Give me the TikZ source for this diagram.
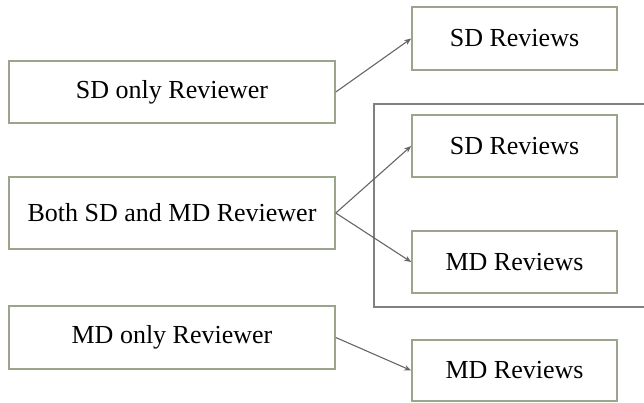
\documentclass[tikz,border=0pt]{standalone}
\usepackage{fontspec}
\setmainfont{Liberation Serif}
\usetikzlibrary{arrows.meta}
\definecolor{boxline}{HTML}{9BA58C}
\definecolor{frameline}{HTML}{808080}
\definecolor{arrowline}{HTML}{666666}
\tikzset{
  box/.style={draw=boxline, line width=1.6pt, fill=white, minimum height=62pt, inner sep=0pt, font=\fontsize{26}{30}\selectfont, text=black},
  leftbox/.style={box, minimum width=326pt},
  rightbox/.style={box, minimum width=205pt},
  conn/.style={draw=arrowline, line width=1.1pt, -{Stealth[length=7pt,width=5.5pt]}}
}
\begin{document}
\begin{tikzpicture}[x=1pt,y=-1pt]
\useasboundingbox (0,0) rectangle (644,402);
\draw[frameline, line width=1.8pt] (660,104) -- (374,104) -- (374,307) -- (660,307);
\node[rightbox, minimum height=63pt] (sdtop) at (514.5,38.5) {SD Reviews};
\node[leftbox] (sdonly) at (172,92) {SD only Reviewer};
\node[rightbox] (sdmid) at (514.5,146) {SD Reviews};
\node[leftbox, minimum height=72pt] (both) at (172,213) {Both SD and MD Reviewer};
\node[rightbox] (mdmid) at (514.5,262) {MD Reviews};
\node[leftbox, minimum height=63pt] (mdonly) at (172,337.5) {MD only Reviewer};
\node[rightbox, minimum height=61pt] (mdbot) at (514.5,370.5) {MD Reviews};
\draw[conn] (sdonly.east) -- (sdtop.west);
\draw[conn] (both.east) -- (sdmid.west);
\draw[conn] (both.east) -- (mdmid.west);
\draw[conn] (mdonly.east) -- (mdbot.west);
\end{tikzpicture}
\end{document}
